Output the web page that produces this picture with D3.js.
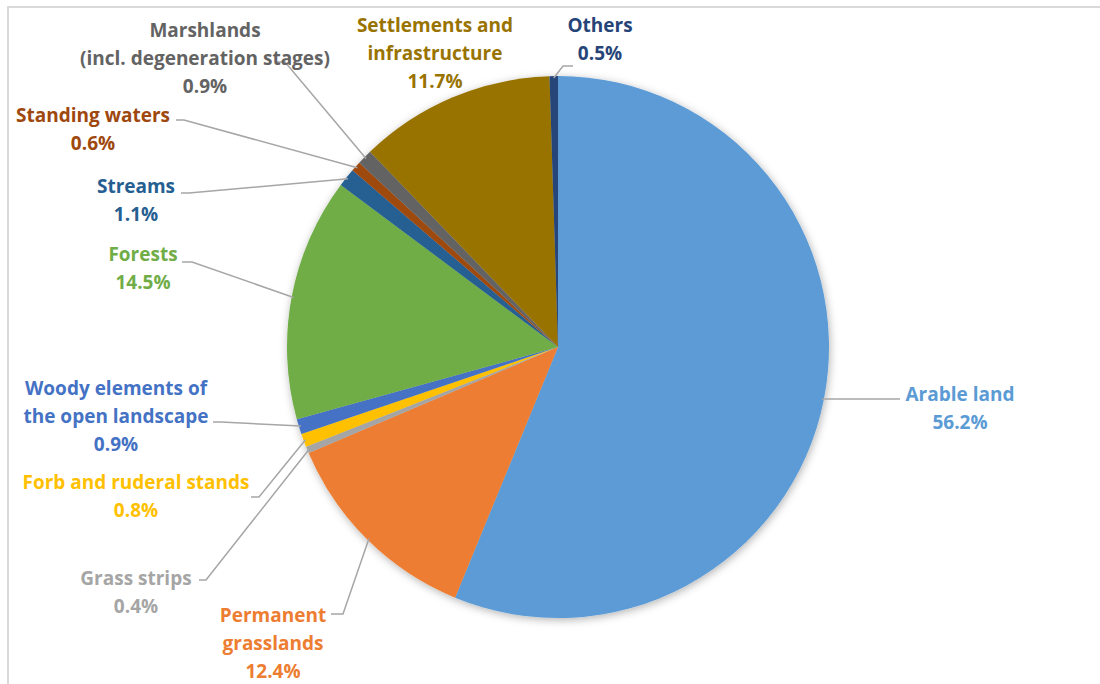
<!DOCTYPE html>
<html>
<head>
<meta charset="utf-8">
<script src="https://cdn.jsdelivr.net/npm/d3@7"></script>
<style>
  html, body { margin: 0; padding: 0; background: #fff; }
  svg { display: block; }
  text { font-family: "Open Sans", Lato, sans-serif; font-weight: 700; }
</style>
</head>
<body>
<svg id="chart" width="1100" height="684"></svg>
<script>
// Land-use categories, clockwise from 12 o'clock
const categories = [
  "Arable land", "Permanent grasslands", "Grass strips", "Forb and ruderal stands",
  "Woody elements of the open landscape", "Forests", "Streams", "Standing waters",
  "Marshlands (incl. degeneration stages)", "Settlements and infrastructure", "Others"
];
const shares = [56.2, 12.4, 0.4, 0.8, 0.9, 14.5, 1.1, 0.6, 0.9, 11.7, 0.5];
const colors = [
  "#5B9BD5", "#ED7D31", "#A5A5A5", "#FFC000", "#4472C4", "#70AD47",
  "#255E91", "#9E480E", "#636363", "#997300", "#264478"
];
// Category names split over the lines they are printed on
const labelLines = [
  ["Arable land"], ["Permanent", "grasslands"], ["Grass strips"], ["Forb and ruderal stands"],
  ["Woody elements of", "the open landscape"], ["Forests"], ["Streams"], ["Standing waters"],
  ["Marshlands", "(incl. degeneration stages)"], ["Settlements and", "infrastructure"], ["Others"]
];

// Label placement: text centre x, first baseline y, leader start and elbow (null = no leader)
const labelLayout = [
  { x: 960, y: 401, lead: [[900, 399], [880, 399]] },
  { x: 273, y: 622, lead: [[331, 614], [343, 614]] },
  { x: 136, y: 585, lead: [[199, 580], [206, 580]] },
  { x: 136, y: 489, lead: [[251, 497], [259, 497]] },
  { x: 116, y: 395, lead: [[213, 422], [221, 422]] },
  { x: 143, y: 261, lead: [[182, 262], [192, 262]] },
  { x: 136, y: 193, lead: [[181, 193], [189, 193]] },
  { x: 93,  y: 122, lead: [[176, 120], [184, 120]] },
  { x: 205, y: 37,  lead: [[277, 62], [285, 62]] },
  { x: 435, y: 32,  lead: null },
  { x: 600, y: 32,  lead: [[573, 66], [563, 66]] }
];

const svg = d3.select("#chart");
const cx = 558, cy = 347, radius = 271, lineH = 28;

// Chart area frame (top and left edges)
svg.append("path")
  .attr("d", "M8,684 V7 H1100")
  .attr("fill", "none").attr("stroke", "#d9d9d9").attr("stroke-width", 2);

const defs = svg.append("defs");
const shadow = defs.append("filter").attr("id", "pieShadow")
  .attr("x", "-10%").attr("y", "-10%").attr("width", "120%").attr("height", "120%");
shadow.append("feDropShadow")
  .attr("dx", 1).attr("dy", 2).attr("stdDeviation", 4)
  .attr("flood-color", "#000").attr("flood-opacity", 0.3);

const pie = d3.pie().sort(null).value(d => d);
const arcs = pie(shares);
const arc = d3.arc().innerRadius(0).outerRadius(radius);
const edge = d3.arc().innerRadius(radius - 2).outerRadius(radius - 2);

const g = svg.append("g").attr("transform", `translate(${cx},${cy})`);
g.append("g").attr("filter", "url(#pieShadow)")
  .selectAll("path").data(arcs).join("path")
  .attr("d", arc)
  .attr("fill", (d, i) => colors[i]);

// Leader lines from the labels to each slice's outer edge
const leaders = svg.append("g");
arcs.forEach((d, i) => {
  const L = labelLayout[i];
  if (!L.lead) return;
  const [ex, ey] = edge.centroid(d);
  const pts = [L.lead[0], L.lead[1], [cx + ex, cy + ey]];
  leaders.append("path")
    .attr("d", d3.line()(pts))
    .attr("fill", "none").attr("stroke", "#a6a6a6").attr("stroke-width", 1.5);
});

// Category and percentage labels
const fmt = d3.format(".1f");
const labels = svg.append("g");
arcs.forEach((d, i) => {
  const L = labelLayout[i];
  const t = labels.append("text")
    .attr("text-anchor", "middle")
    .attr("font-size", 19)
    .attr("fill", colors[i]);
  const lines = labelLines[i].concat([fmt(shares[i]) + "%"]);
  lines.forEach((s, k) => {
    t.append("tspan").attr("x", L.x).attr("y", L.y + k * lineH).text(s);
  });
});
</script>
</body>
</html>
